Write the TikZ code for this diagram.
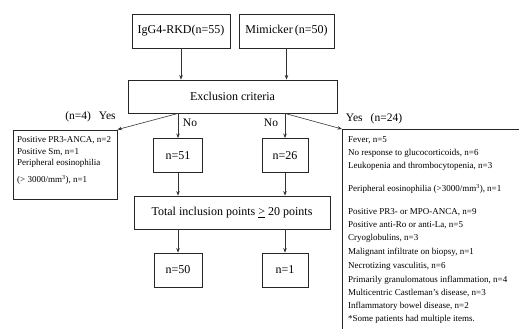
\documentclass[tikz,border=0pt]{standalone}
\usepackage{fontspec}
\setmainfont{Liberation Serif}
\usetikzlibrary{arrows.meta}
\begin{document}
\begin{tikzpicture}[x=1pt,y=-1pt,
  box/.style={draw=black!85,line width=0.9pt,minimum height=34pt,inner sep=0pt,font=\fontsize{12}{14}\selectfont},
  arr/.style={-{Stealth[length=4.5pt,width=3.5pt]},line width=0.6pt,black!80},
  lab/.style={font=\fontsize{11.5}{13}\selectfont,inner sep=0pt},
  small/.style={font=\fontsize{9}{11}\selectfont,inner sep=0pt,anchor=west}]
\useasboundingbox (0,0) rectangle (519,329);
\node[box,minimum width=98pt] (igg) at (181,31) {IgG4-RKD(n=55)};
\node[box,minimum width=95pt] (mim) at (286.5,31) {Mimicker\,(n=50)};
\node[box,minimum width=209pt,minimum height=33pt] (excl) at (232.5,96.5) {Exclusion criteria};
\node[box,minimum width=49pt] (n51) at (178,155.5) {n=51};
\node[box,minimum width=46pt] (n26) at (285,155.5) {n=26};
\node[box,minimum width=196pt,minimum height=33pt] (total) at (232,212.5) {Total inclusion points \underline{>} 20 points};
\node[box,minimum width=48pt] (n50) at (178,270) {n=50};
\node[box,minimum width=46pt] (n1) at (285,270) {n=1};
\node[draw=black!85,line width=0.9pt,minimum width=104pt,minimum height=69pt,inner sep=0pt] (lbox) at (65,164.5) {};
\node[draw=black!85,line width=0.9pt,minimum width=200pt,minimum height=210pt,inner sep=0pt,anchor=north west] (rbox) at (342,129) {};
\coordinate (e1) at (excl.south -| n51.north);
\coordinate (e2) at (excl.south -| n26.north);
\draw[arr] (igg.south) -- (igg.south |- excl.north);
\draw[arr] (mim.south) -- (mim.south |- excl.north);
\draw[arr] (e1) -- (n51.north);
\draw[arr] (e2) -- (n26.north);
\draw[arr] (n51.south) -- (n51.south |- total.north);
\draw[arr] (n26.south) -- (n26.south |- total.north);
\draw[arr] (n51.south |- total.south) -- (n50.north);
\draw[arr] (n26.south |- total.south) -- (n1.north);
\draw[arr] (e1) -- (lbox.north east);
\draw[arr] (e2) -- (rbox.north west);
\node[lab] (no1) at (190,123) {No};
\node[lab] (no2) at (271,123) {No};
\node[lab] (yes1) at (90.5,117) {(n=4)\hspace{0.7em}Yes};
\node[lab] (yes2) at (374,119) {Yes\hspace{0.7em}(n=24)};
\node[small] (l1) at (17,140) {Positive PR3-ANCA, n=2};
\node[small] (l2) at (17,152) {Positive Sm, n=1};
\node[small] (l3) at (17,163.5) {Peripheral eosinophilia};
\node[small] (l4) at (17,180) {(> 3000/mm\textsuperscript{3}), n=1};
\node[small] (r1) at (348,140) {Fever, n=5};
\node[small] (r2) at (348,153) {No response to glucocorticoids, n=6};
\node[small] (r3) at (348,166.5) {Leukopenia and thrombocytopenia, n=3};
\node[small] (r4) at (348,189) {Peripheral eosinophilia (>3000/mm\textsuperscript{3}), n=1};
\node[small] (r5) at (348,212) {Positive PR3- or MPO-ANCA, n=9};
\node[small] (r6) at (348,225) {Positive anti-Ro or anti-La, n=5};
\node[small] (r7) at (348,238.5) {Cryoglobulins, n=3};
\node[small] (r8) at (348,252) {Malignant infiltrate on biopsy, n=1};
\node[small] (r9) at (348,266) {Necrotizing vasculitis, n=6};
\node[small] (r10) at (348,280) {Primarily granulomatous inflammation, n=4};
\node[small] (r11) at (348,293) {Multicentric Castleman's disease, n=3};
\node[small] (r12) at (348,306.5) {Inflammatory bowel disease, n=2};
\node[small] (r13) at (348,319.5) {*Some patients had multiple items.};
\end{tikzpicture}
\end{document}
